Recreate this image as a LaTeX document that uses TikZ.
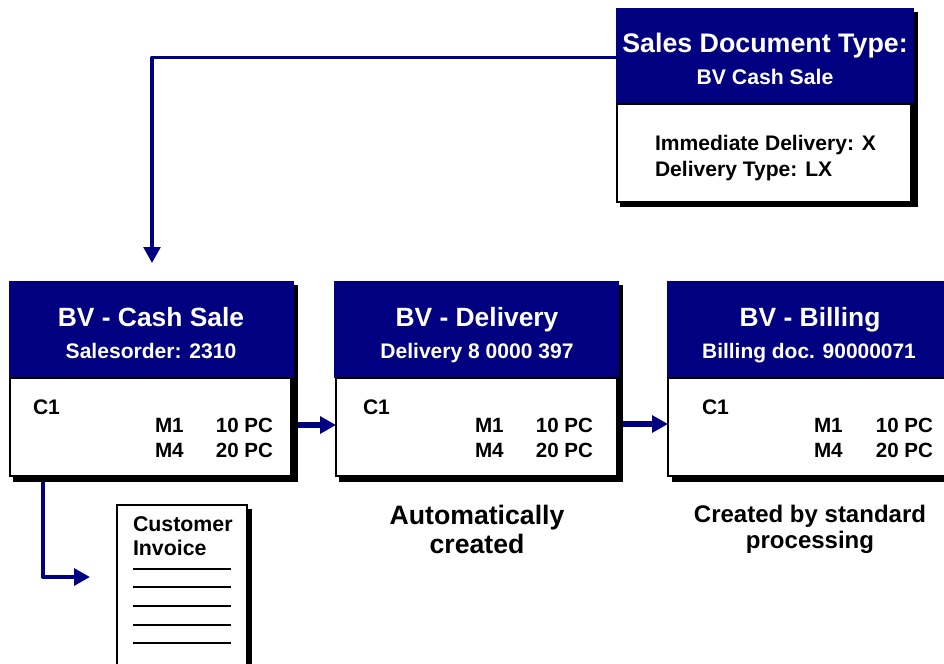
\documentclass[tikz,border=0pt]{standalone}
\usepackage{fontspec}
\setmainfont{Liberation Sans}
\usetikzlibrary{arrows.meta}
\definecolor{navyhead}{HTML}{000080}
\newcommand{\rbox}[6]{\node[#6,anchor=north west,minimum width={(#4-#2)*0.75pt},minimum height={(#5-#3)*0.75pt}] (#1) at (#2,#3) {};}
\newcommand{\tx}[6]{\node[lbl,anchor=#4,font=\bfseries\fontsize{#5}{#5}\selectfont,#6] (#1) at (#2,#3)}
\tikzset{
  lbl/.style={inner sep=0pt,outer sep=0pt,text=black},
  white text/.style={text=white},
  header/.style={fill=navyhead,inner sep=0pt,outer sep=0pt},
  shade box/.style={fill=black,inner sep=0pt,outer sep=0pt},
  body/.style={fill=white,draw=black,line width=1pt,inner sep=0pt,outer sep=0pt},
  conn/.style={draw=navyhead,line width=2.7pt,line join=round,-{Triangle[length=12pt,width=12.5pt]}},
  rule/.style={draw=black,line width=1.1pt}
}
\begin{document}
\begin{tikzpicture}[x=0.75pt,y=-0.75pt]
\useasboundingbox (0,0) rectangle (944,663);
\clip (0,0) rectangle (944,663);
\fill[white] (0,0) rectangle (944,663);
% top box
\rbox{sTop}{620}{12}{918}{207}{shade box}
\rbox{hTop}{616}{8}{914}{103}{header}
\rbox{bTop}{617}{104}{911}{202}{body}
% box 1
\rbox{s1}{13}{285}{298}{482}{shade box}
\rbox{h1}{9}{281}{294}{378}{header}
\rbox{b1}{10}{378}{291}{476}{body}
% box 2
\rbox{s2}{339}{285}{623}{482}{shade box}
\rbox{h2}{334}{281}{619}{378}{header}
\rbox{b2}{336}{378}{617}{476}{body}
% box 3
\rbox{s3}{672}{285}{960}{482}{shade box}
\rbox{h3}{667}{281}{960}{378}{header}
\rbox{b3}{668}{378}{960}{476}{body}
% invoice
\rbox{sInv}{121}{509}{252}{690}{shade box}
\rbox{bInv}{117}{505}{247}{690}{body}
% connectors
\coordinate (topKnee) at (152,57.5);
\coordinate (topTip) at (152,263);
\coordinate (invKnee) at (43,577);
\coordinate (invTip) at (90,577);
\coordinate (row12) at (0,425);
\coordinate (row23) at (0,424);
\draw[conn] (topKnee -| hTop.west) -- (topKnee) -- (topTip);
\draw[conn,line width=3pt] (invKnee |- s1.south) -- (invKnee) -- (invTip);
\draw[conn,line width=3.8pt] (row12 -| s1.east) -- (row12 -| b2.west);
\draw[conn,line width=3.8pt] (row23 -| s2.east) -- (row23 -| b3.west);
% rules on the invoice
\foreach \n/\y/\w in {a/569/1.1pt,b/587/1.1pt,c/606/1.9pt,d/625/1.1pt,e/643/1.1pt}{
  \coordinate (ra\n) at (133,\y);
  \coordinate (rb\n) at (231,\y);
  \draw[rule,line width=\w] (ra\n) -- (rb\n);
}
% texts
\tx{t1}{765}{53}{base}{20.1}{white text}{Sales Document Type:};
\tx{t2}{765}{85}{base}{15.9}{white text}{BV Cash Sale};
\tx{t3}{655}{150}{base west}{15.8}{}{Immediate Delivery: X};
\tx{t4}{655}{176}{base west}{15.8}{}{Delivery Type: LX};
\tx{a1}{151}{326}{base}{19.8}{white text}{BV - Cash Sale};
\tx{a2}{151}{358}{base}{15.8}{white text}{Salesorder: 2310};
\tx{a3}{33}{414}{base west}{15.8}{}{C1};
\tx{a4}{155}{432}{base west}{15.5}{}{M1};
\tx{a5}{155}{457}{base west}{15.5}{}{M4};
\tx{a6}{273}{432}{base east}{15.4}{}{10 PC};
\tx{a7}{273}{457}{base east}{15.4}{}{20 PC};
\tx{d1}{477}{326}{base}{19.8}{white text}{BV - Delivery};
\tx{d2}{477}{358}{base}{15.8}{white text}{Delivery 8 0000 397};
\tx{d3}{363}{414}{base west}{15.8}{}{C1};
\tx{d4}{475}{432}{base west}{15.5}{}{M1};
\tx{d5}{475}{457}{base west}{15.5}{}{M4};
\tx{d6}{593}{432}{base east}{15.4}{}{10 PC};
\tx{d7}{593}{457}{base east}{15.4}{}{20 PC};
\tx{e1}{810}{326}{base}{19.8}{white text}{BV - Billing};
\tx{e2}{809}{358}{base}{15.7}{white text}{Billing doc. 90000071};
\tx{e3}{702}{414}{base west}{15.8}{}{C1};
\tx{e4}{814}{432}{base west}{15.5}{}{M1};
\tx{e5}{814}{457}{base west}{15.5}{}{M4};
\tx{e6}{933}{432}{base east}{15.4}{}{10 PC};
\tx{e7}{933}{457}{base east}{15.4}{}{20 PC};
\tx{n1}{477}{524}{base}{20}{}{Automatically};
\tx{n2}{477}{553}{base}{20}{}{created};
\tx{n3}{810}{522}{base}{18}{}{Created by standard};
\tx{n4}{810}{548}{base}{18}{}{processing};
\tx{i1}{133}{531}{base west}{16}{}{Customer};
\tx{i2}{133}{555}{base west}{16}{}{Invoice};
\end{tikzpicture}
\end{document}
